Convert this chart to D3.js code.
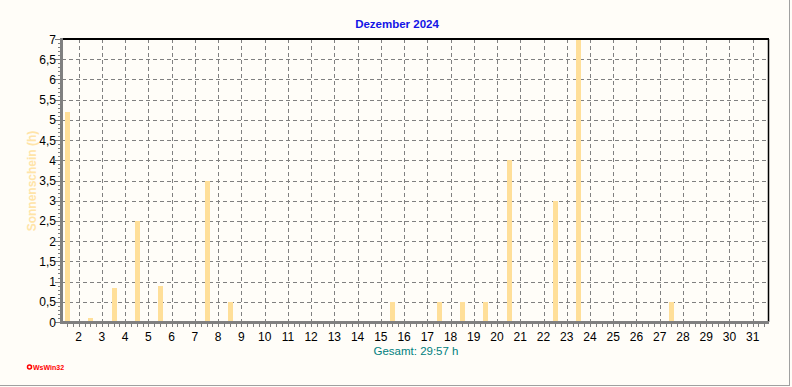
<!DOCTYPE html>
<html>
<head>
<meta charset="utf-8">
<script src="https://cdn.jsdelivr.net/npm/d3@7"></script>
<style>
html,body{margin:0;padding:0;background:#FFFDF8;}
svg{display:block;}
text{font-family:"Liberation Sans",Arial,sans-serif;}
</style>
</head>
<body>
<svg id="chart" width="792" height="387"></svg>
<script>
// ---- data ----
const days = d3.range(1, 32);
const sunshine = [5.2, 0.1, 0.83, 2.5, 0.88, 0.03, 3.5, 0.5, 0.03, 0.03,
                  0.03, 0.03, 0.03, 0.03, 0.5, 0.03, 0.5, 0.5, 0.5, 4.0,
                  0.03, 3.0, 7.0, 0.03, 0.03, 0.03, 0.5, 0.03, 0.03, 0.03, 0.03];
const xTickLabels = d3.range(2, 32).map(String);
const yTicks = d3.range(0, 7.01, 0.5);
const title = "Dezember 2024";
const yTitle = "Sonnenschein  (h)";
const totalText = "Gesamt: 29:57 h";

// ---- layout ----
const svg = d3.select("#chart");
const L = 62, R = 768, T = 39, B = 322;

// time axis in days since 1 Dec 00:00
const x = d3.scaleLinear().domain([0.281, 30.659]).range([L, R]);
const y = d3.scaleLinear().domain([0, 7]).range([B, T]);

// background
svg.append("rect").attr("width", 792).attr("height", 387).attr("fill", "#FFFDF8");

// grid
const grid = svg.append("g").attr("stroke", "#808080").attr("stroke-width", 1)
  .attr("stroke-dasharray", "4,3").attr("shape-rendering", "crispEdges");
grid.selectAll(".hg").data(yTicks.filter(v => v > 0 && v < 7)).join("line")
  .attr("x1", L).attr("x2", R)
  .attr("y1", d => Math.round(y(d)) + 0.5).attr("y2", d => Math.round(y(d)) + 0.5);
grid.selectAll(".vg").data(xTickLabels.map((s, i) => i + 1)).join("line")
  .attr("y1", T).attr("y2", B)
  .attr("x1", d => Math.round(x(d)) + 0.5).attr("x2", d => Math.round(x(d)) + 0.5);

// bars
svg.append("g").attr("fill", "#FFDF99").attr("shape-rendering", "crispEdges")
  .selectAll("rect").data(days).join("rect")
  .attr("x", (d) => Math.round(x(d - 0.5)) - 2)
  .attr("width", 5)
  .attr("y", (d, i) => Math.round(y(Math.min(sunshine[i], 7))))
  .attr("height", (d, i) => Math.max(1, B - Math.round(y(Math.min(sunshine[i], 7)))));

// top and right border
svg.append("line").attr("x1", L).attr("x2", R + 1).attr("y1", T).attr("y2", T)
  .attr("stroke", "#000").attr("stroke-width", 2);
svg.append("line").attr("x1", R + 0.5).attr("x2", R + 0.5).attr("y1", T).attr("y2", B)
  .attr("stroke", "#000").attr("stroke-width", 1.5);

// axes (gray thick)
svg.append("line").attr("x1", L - 0.5).attr("x2", L - 0.5).attr("y1", T - 1).attr("y2", B + 2)
  .attr("stroke", "#808080").attr("stroke-width", 3);
svg.append("line").attr("x1", L - 2).attr("x2", R + 1).attr("y1", B + 0.5).attr("y2", B + 0.5)
  .attr("stroke", "#808080").attr("stroke-width", 3);

// y ticks
const yt = svg.append("g").attr("stroke", "#808080").attr("shape-rendering", "crispEdges");
yt.selectAll("line").data(d3.range(0, 71).map(v => v / 10)).join("line")
  .attr("x1", d => (Math.round(d * 10) % 5 === 0) ? L - 7 : L - 4).attr("x2", L - 1)
  .attr("y1", d => Math.round(y(d)) + 0.5).attr("y2", d => Math.round(y(d)) + 0.5);
const fmt = v => String(v).replace(".", ",");
svg.append("g").selectAll("text").data(yTicks).join("text")
  .attr("x", 56).attr("y", d => y(d) + 4.5)
  .attr("text-anchor", "end").attr("font-size", 12).attr("fill", "#000")
  .text(fmt);

// x ticks (minor every 6 h)
const xt = svg.append("g").attr("stroke", "#808080").attr("shape-rendering", "crispEdges");
xt.selectAll("line").data(d3.range(1, 123).map(v => v / 4).filter(v => v >= 0.281 && v <= 30.659)).join("line")
  .attr("x1", d => Math.round(x(d)) + 0.5).attr("x2", d => Math.round(x(d)) + 0.5)
  .attr("y1", B + 1).attr("y2", B + 5);
svg.append("g").selectAll("text").data(xTickLabels).join("text")
  .attr("x", (d, i) => x(i + 1)).attr("y", 341)
  .attr("text-anchor", "middle").attr("font-size", 12).attr("fill", "#000")
  .text(d => d);

// titles
svg.append("text").attr("x", 397).attr("y", 28).attr("text-anchor", "middle")
  .attr("font-size", 11.5).attr("font-weight", "bold").attr("fill", "#1414E6").text(title);
svg.append("text").attr("transform", "translate(36,181) rotate(-90)").attr("text-anchor", "middle")
  .attr("font-size", 12).attr("font-weight", "bold").attr("fill", "#FFE4A8").text(yTitle);
svg.append("text").attr("x", 416).attr("y", 355).attr("text-anchor", "middle")
  .attr("font-size", 11.5).attr("fill", "#008080").text(totalText);

// logo
svg.append("circle").attr("cx", 29.5).attr("cy", 367).attr("r", 2).attr("fill", "#FFFFFF")
  .attr("stroke", "#FF0000").attr("stroke-width", 1.5);
svg.append("text").attr("x", 33).attr("y", 369.5).attr("font-size", 7).attr("font-weight", "bold")
  .attr("fill", "#FF0000").text("WsWin32");

// outer frame (right & bottom)
svg.append("line").attr("x1", 789.5).attr("x2", 789.5).attr("y1", 0).attr("y2", 386)
  .attr("stroke", "#A0A0A0").attr("stroke-width", 1);
svg.append("line").attr("x1", 0).attr("x2", 790).attr("y1", 385.5).attr("y2", 385.5)
  .attr("stroke", "#A0A0A0").attr("stroke-width", 1);
</script>
</body>
</html>
